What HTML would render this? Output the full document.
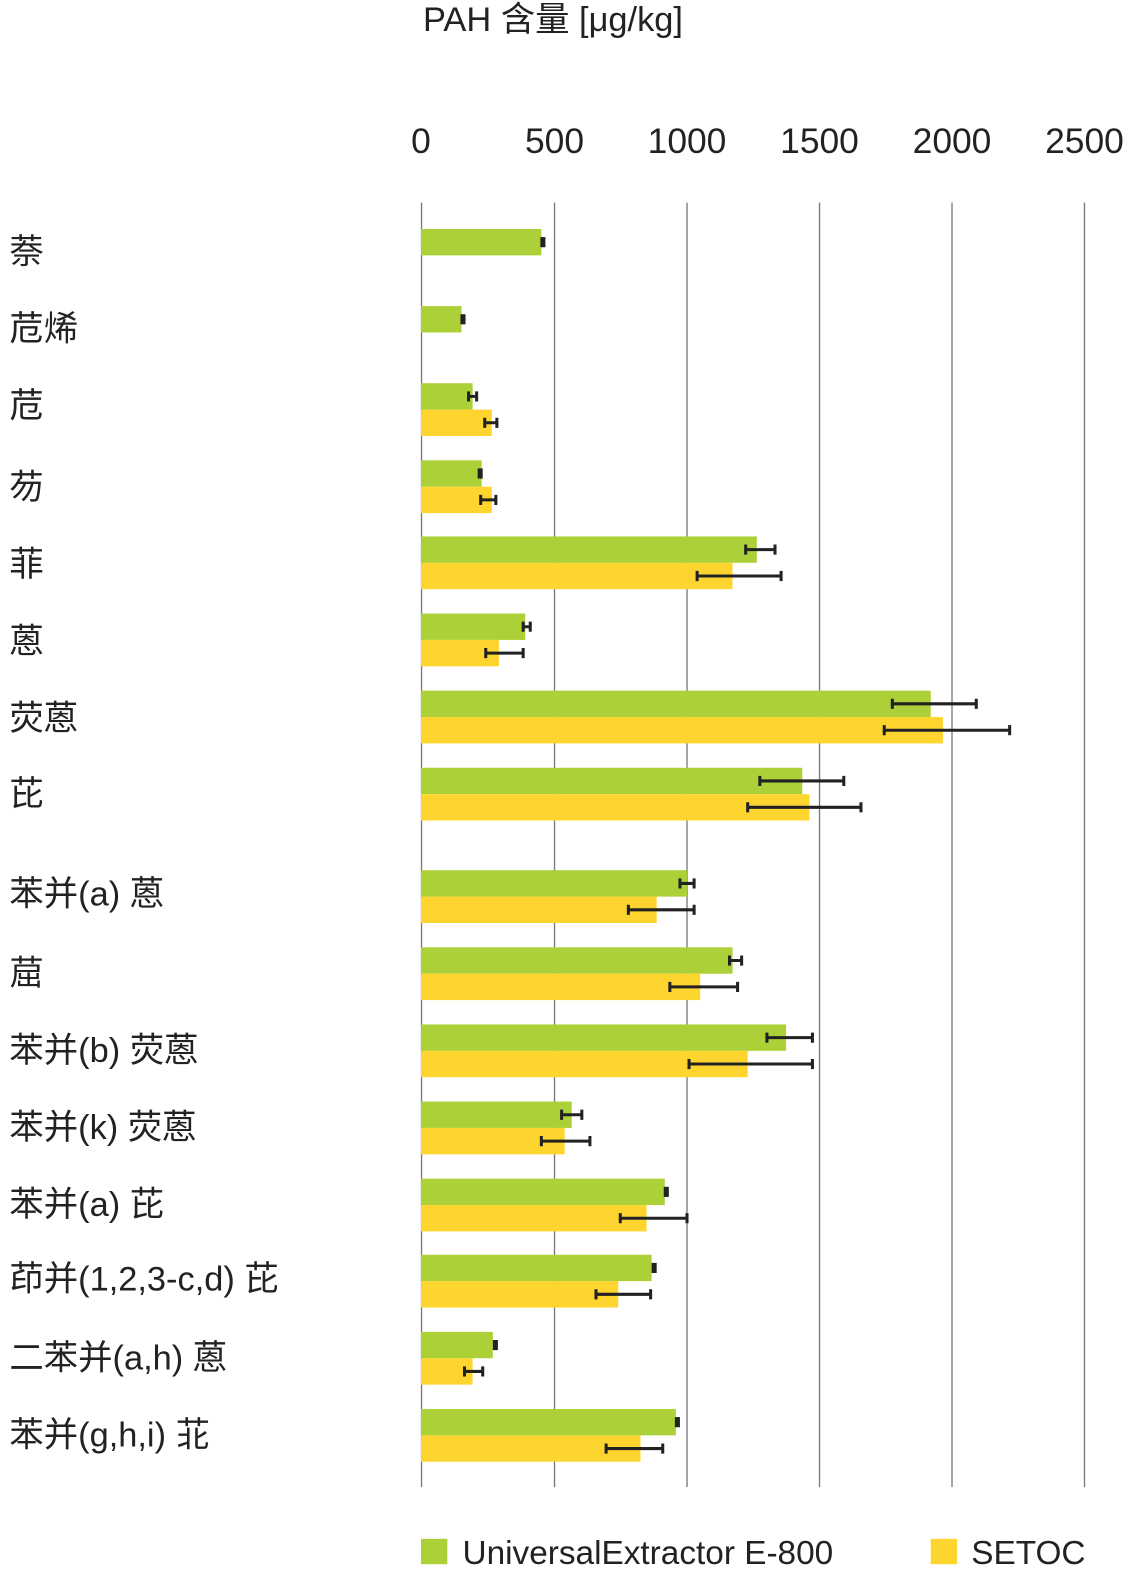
<!DOCTYPE html>
<html><head><meta charset="utf-8"><style>
html,body{margin:0;padding:0;background:#fff;}
svg{display:block;}
text{font-family:"Liberation Sans","Noto Sans CJK SC",sans-serif;fill:#222;}
</style></head><body>
<svg width="1134" height="1591" viewBox="0 0 1134 1591" xmlns="http://www.w3.org/2000/svg">
<g transform="matrix(1.0114 0 0 1.0146 2.3 -0.3)">
<text x="416" y="31" font-size="34">PAH 含量 [μg/kg]</text>
<g font-size="35" text-anchor="middle">
<text x="414" y="151">0</text>
<text x="546" y="151">500</text>
<text x="677" y="151">1000</text>
<text x="808" y="151">1500</text>
<text x="939" y="151">2000</text>
<text x="1070" y="151">2500</text>
</g>
<g stroke="#777" stroke-width="1.3">
<line x1="414.5" y1="200" x2="414.5" y2="1466"/>
<line x1="546" y1="200" x2="546" y2="1466"/>
<line x1="677" y1="200" x2="677" y2="1466"/>
<line x1="808" y1="200" x2="808" y2="1466"/>
<line x1="939" y1="200" x2="939" y2="1466"/>
<line x1="1070" y1="200" x2="1070" y2="1466"/>
</g>
<g fill="#acd037">
<rect x="414" y="226" width="119" height="26"/>
<rect x="414" y="302" width="40" height="26"/>
<rect x="414" y="378" width="51" height="26"/>
<rect x="414" y="454" width="60" height="26"/>
<rect x="414" y="529" width="332" height="26"/>
<rect x="414" y="605" width="103" height="26"/>
<rect x="414" y="681" width="504" height="26"/>
<rect x="414" y="757" width="377" height="26"/>
<rect x="414" y="858" width="263" height="26"/>
<rect x="414" y="934" width="308" height="26"/>
<rect x="414" y="1010" width="361" height="26"/>
<rect x="414" y="1086" width="149" height="26"/>
<rect x="414" y="1162" width="241" height="26"/>
<rect x="414" y="1237" width="228" height="26"/>
<rect x="414" y="1313" width="71" height="26"/>
<rect x="414" y="1389" width="252" height="26"/>
</g>
<g fill="#fed52e">
<rect x="414" y="404" width="70" height="26"/>
<rect x="414" y="480" width="70" height="26"/>
<rect x="414" y="555" width="308" height="26"/>
<rect x="414" y="631" width="77" height="26"/>
<rect x="414" y="707" width="516" height="26"/>
<rect x="414" y="783" width="384" height="26"/>
<rect x="414" y="884" width="233" height="26"/>
<rect x="414" y="960" width="276" height="26"/>
<rect x="414" y="1036" width="323" height="26"/>
<rect x="414" y="1112" width="142" height="26"/>
<rect x="414" y="1188" width="223" height="26"/>
<rect x="414" y="1263" width="195" height="26"/>
<rect x="414" y="1339" width="51" height="26"/>
<rect x="414" y="1415" width="217" height="26"/>
</g>
<g fill="#222">
<rect x="532" y="234" width="5" height="10"/>
<rect x="453" y="310" width="5" height="10"/>
<rect x="470" y="462" width="5" height="10"/>
<rect x="654" y="1170" width="5" height="10"/>
<rect x="642" y="1245" width="5" height="10"/>
<rect x="485" y="1321" width="5" height="10"/>
<rect x="665" y="1397" width="5" height="10"/>
</g>
<g stroke="#222" stroke-width="3" fill="none">
<path d="M461 391H469M461 386V396M469 386V396"/>
<path d="M477 417H489M477 412V422M489 412V422"/>
<path d="M473 493H488M473 488V498M488 488V498"/>
<path d="M735 542H764M735 537V547M764 537V547"/>
<path d="M687 568H770M687 563V573M770 563V573"/>
<path d="M515 618H522M515 613V623M522 613V623"/>
<path d="M478 644H515M478 639V649M515 639V649"/>
<path d="M880 694H963M880 689V699M963 689V699"/>
<path d="M872 720H996M872 715V725M996 715V725"/>
<path d="M749 770H832M749 765V775M832 765V775"/>
<path d="M737 796H849M737 791V801M849 791V801"/>
<path d="M670 871H684M670 866V876M684 866V876"/>
<path d="M619 897H684M619 892V902M684 892V902"/>
<path d="M719 947H731M719 942V952M731 942V952"/>
<path d="M660 973H727M660 968V978M727 968V978"/>
<path d="M756 1023H801M756 1018V1028M801 1018V1028"/>
<path d="M679 1049H801M679 1044V1054M801 1044V1054"/>
<path d="M553 1099H573M553 1094V1104M573 1094V1104"/>
<path d="M533 1125H581M533 1120V1130M581 1120V1130"/>
<path d="M611 1201H677M611 1196V1206M677 1196V1206"/>
<path d="M587 1276H641M587 1271V1281M641 1271V1281"/>
<path d="M457 1352H475M457 1347V1357M475 1347V1357"/>
<path d="M597 1428H653M597 1423V1433M653 1423V1433"/>
</g>
<g font-size="34">
<text x="7" y="260">萘</text>
<text x="7" y="336">苊烯</text>
<text x="7" y="412">苊</text>
<text x="7" y="492">芴</text>
<text x="7" y="568">菲</text>
<text x="7" y="644">蒽</text>
<text x="7" y="720">荧蒽</text>
<text x="7" y="794">芘</text>
<text x="7" y="893">苯并(a) 蒽</text>
<text x="7" y="971">䓛</text>
<text x="7" y="1047">苯并(b) 荧蒽</text>
<text x="7" y="1123">苯并(k) 荧蒽</text>
<text x="7" y="1199">苯并(a) 芘</text>
<text x="7" y="1272">茚并(1,2,3-c,d) 芘</text>
<text x="7" y="1350">二苯并(a,h) 蒽</text>
<text x="7" y="1426">苯并(g,h,i) 苝</text>
</g>
<rect x="414" y="1517" width="26" height="25" fill="#acd037"/>
<text x="455" y="1542" font-size="33">UniversalExtractor E-800</text>
<rect x="918" y="1517" width="26" height="25" fill="#fed52e"/>
<text x="958" y="1542" font-size="33">SETOC</text>
</g>
</svg>
</body></html>
